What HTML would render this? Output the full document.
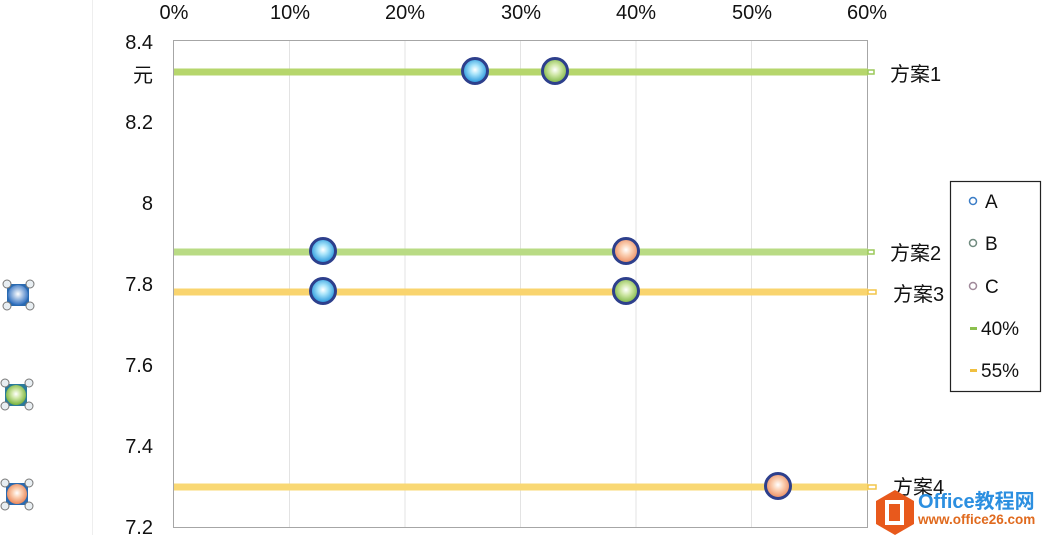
<!DOCTYPE html>
<html><head><meta charset="utf-8"><style>
html,body{margin:0;padding:0;background:#fff;}
svg{display:block;font-family:"Liberation Sans","Noto Sans CJK SC",sans-serif;}
</style></head><body>
<svg width="1042" height="535" viewBox="0 0 1042 535" xmlns="http://www.w3.org/2000/svg">
<defs>
<radialGradient id="gA" cx="50%" cy="45%" r="55%"><stop offset="0" stop-color="#ffffff"/><stop offset="0.35" stop-color="#a8e4fa"/><stop offset="1" stop-color="#1a8fd8"/></radialGradient>
<radialGradient id="gB" cx="50%" cy="45%" r="55%"><stop offset="0" stop-color="#ffffff"/><stop offset="0.4" stop-color="#cfe7a6"/><stop offset="1" stop-color="#78b23c"/></radialGradient>
<radialGradient id="gC" cx="50%" cy="45%" r="55%"><stop offset="0" stop-color="#ffffff"/><stop offset="0.4" stop-color="#fbd0b3"/><stop offset="1" stop-color="#e9875a"/></radialGradient>
<radialGradient id="gL" cx="50%" cy="45%" r="55%"><stop offset="0" stop-color="#ffffff"/><stop offset="1" stop-color="#2f6fc0"/></radialGradient>
</defs>
<rect width="1042" height="535" fill="#fff"/>
<line x1="92.5" y1="0" x2="92.5" y2="535" stroke="#eeeeee" stroke-width="1"/>
<g stroke="#e3e3e3" stroke-width="1">
<line x1="289.5" y1="41" x2="289.5" y2="527"/>
<line x1="405" y1="41" x2="405" y2="527"/>
<line x1="520.5" y1="41" x2="520.5" y2="527"/>
<line x1="636" y1="41" x2="636" y2="527"/>
<line x1="751.5" y1="41" x2="751.5" y2="527"/>
</g>
<rect x="173.5" y="40.5" width="694" height="487" fill="none" stroke="#a6a6a6" stroke-width="1"/>
<g font-size="20" fill="#111" text-anchor="middle">
<text x="174" y="19">0%</text>
<text x="290" y="19">10%</text>
<text x="405" y="19">20%</text>
<text x="521" y="19">30%</text>
<text x="636" y="19">40%</text>
<text x="752" y="19">50%</text>
<text x="867" y="19">60%</text>
</g>
<g font-size="20" fill="#111" text-anchor="end">
<text x="153" y="49">8.4</text>
<text x="153" y="129">8.2</text>
<text x="153" y="210">8</text>
<text x="153" y="291">7.8</text>
<text x="153" y="372">7.6</text>
<text x="153" y="453">7.4</text>
<text x="153" y="534">7.2</text>
<text x="153" y="82">元</text>
</g>
<g stroke-width="7">
<line x1="174" y1="72" x2="868" y2="72" stroke="#b6d66c"/>
<line x1="174" y1="252" x2="868" y2="252" stroke="#b9db84"/>
<line x1="174" y1="292" x2="868" y2="292" stroke="#f9d46e"/>
<line x1="174" y1="487" x2="868" y2="487" stroke="#f9d874"/>
</g>
<g stroke-width="1.5" fill="#fff">
<rect x="868" y="70" width="6" height="4" stroke="#9cc95a"/>
<rect x="868" y="250" width="6" height="4" stroke="#9cc95a"/>
<rect x="868" y="290" width="8" height="4" stroke="#f2c54a"/>
<rect x="868" y="485" width="8" height="4" stroke="#f2c54a"/>
</g>
<g font-size="20" fill="#111">
<text x="890" y="81">方案1</text>
<text x="890" y="260">方案2</text>
<text x="893" y="301">方案3</text>
<text x="893" y="494">方案4</text>
</g>
<g stroke="#2d3f8c" stroke-width="3">
<circle cx="475" cy="71" r="12.5" fill="url(#gA)"/>
<circle cx="555" cy="71" r="12.5" fill="url(#gB)"/>
<circle cx="323" cy="251" r="12.5" fill="url(#gA)"/>
<circle cx="626" cy="251" r="12.5" fill="url(#gC)"/>
<circle cx="323" cy="291" r="12.5" fill="url(#gA)"/>
<circle cx="626" cy="291" r="12.5" fill="url(#gB)"/>
<circle cx="778" cy="486" r="12.5" fill="url(#gC)"/>
</g>
<rect x="950.5" y="181.5" width="90" height="210" fill="#fff" stroke="#222" stroke-width="1.2"/>
<g stroke-width="1.5" fill="#fff">
<circle cx="973" cy="201" r="3.5" stroke="#3a7cc6"/>
<circle cx="973" cy="243" r="3.5" stroke="#6f8a7e"/>
<circle cx="973" cy="286" r="3.5" stroke="#a08a9a"/>
</g>
<rect x="970" y="327" width="7" height="3" fill="#8cc04e"/>
<rect x="970" y="369" width="7" height="3" fill="#f0c040"/>
<g font-size="19" fill="#111">
<text x="985" y="208">A</text>
<text x="985" y="250">B</text>
<text x="985" y="293">C</text>
<text x="981" y="335">40%</text>
<text x="981" y="377">55%</text>
</g>
<g>
<rect x="7" y="284" width="22" height="22" fill="#2a6ab0"/>
<circle cx="18" cy="295" r="10" fill="url(#gL)"/>
<rect x="5" y="384" width="22" height="22" fill="#2a7a9a"/>
<circle cx="16" cy="395" r="10" fill="url(#gB)"/>
<rect x="6" y="483" width="22" height="22" fill="#2a6ab0"/>
<circle cx="17" cy="494" r="10" fill="url(#gC)"/>
<g fill="#e8eef2" stroke="#777" stroke-width="1">
<circle cx="7" cy="284" r="4"/><circle cx="30" cy="284" r="4"/><circle cx="7" cy="306" r="4"/><circle cx="30" cy="306" r="4"/>
<circle cx="5" cy="383" r="4"/><circle cx="29" cy="383" r="4"/><circle cx="5" cy="406" r="4"/><circle cx="29" cy="406" r="4"/>
<circle cx="5" cy="483" r="4"/><circle cx="29" cy="483" r="4"/><circle cx="5" cy="506" r="4"/><circle cx="29" cy="506" r="4"/>
</g>
</g>
<polygon points="895,490 914,501 914,524 895,535 876,524 876,501" fill="#e8591c"/>
<rect x="887" y="502" width="15" height="21" fill="none" stroke="#fff" stroke-width="4"/>
<text x="918" y="508" font-size="20" font-weight="bold" fill="#2c8fe0">Office教程网</text>
<text x="918" y="524" font-size="13.5" font-weight="bold" fill="#e06a1e">www.office26.com</text>
</svg>
</body></html>
